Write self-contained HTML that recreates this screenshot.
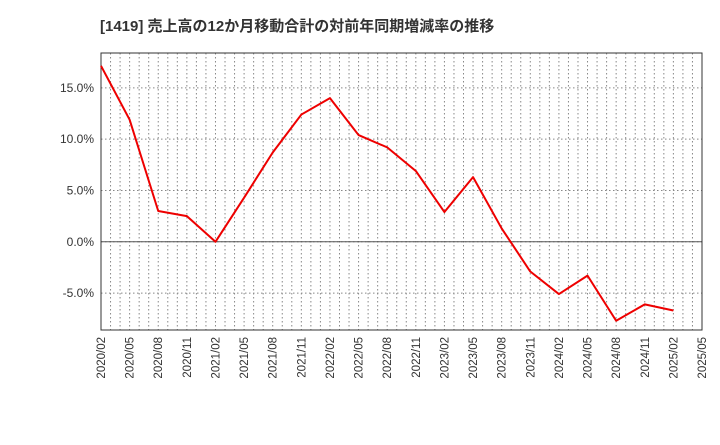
<!DOCTYPE html>
<html><head><meta charset="utf-8"><style>
body{margin:0;background:#fff;width:720px;height:440px;overflow:hidden}
text{font-family:"Liberation Sans","Noto Sans CJK JP",sans-serif}
</style></head><body>
<svg id="c" width="720" height="440"></svg>
<script>
const categories=["2020/02","2020/05","2020/08","2020/11","2021/02","2021/05","2021/08","2021/11","2022/02","2022/05","2022/08","2022/11","2023/02","2023/05","2023/08","2023/11","2024/02","2024/05","2024/08","2024/11","2025/02","2025/05"];
const values=[17.15,11.9,3.0,2.5,0.0,4.3,8.7,12.4,14.0,10.4,9.2,6.9,2.9,6.3,1.3,-2.9,-5.1,-3.3,-7.7,-6.1,-6.7];
const yTicks=[-5,0,5,10,15];
const yTickLabels=["-5.0%","0.0%","5.0%","10.0%","15.0%"];
const NS="http://www.w3.org/2000/svg";
const svg=document.getElementById('c');
const L=101,R=702,T=53,B=330,yMin=-8.6,yMax=18.4;
const x=i=>L+(R-L)*i/(categories.length-1);
const y=v=>B-(v-yMin)/(yMax-yMin)*(B-T);
function el(t,a,p){const e=document.createElementNS(NS,t);for(const k in a)e.setAttribute(k,a[k]);(p||svg).appendChild(e);return e;}
const title=el('text',{x:100,y:31,'font-size':15,'font-weight':'bold',fill:'#333'});


title.textContent='[1419]  売上高の12か月移動合計の対前年同期増減率の推移';
const grid=el('g',{});


const nM=(categories.length-1)*3;
for(let m=1;m<nM;m++){const gx=L+(R-L)*m/nM;el('line',{x1:gx,x2:gx,y1:T,y2:B,stroke:'#888','stroke-width':1,'stroke-dasharray':'1.5,2.5'},grid);}
yTicks.forEach((v,i)=>{el('line',{x1:L,x2:R,y1:y(v),y2:y(v),stroke:'#888','stroke-width':1,'stroke-dasharray':'1.5,2.5'},grid);
const t=el('text',{x:L-7,y:y(v)+4,'font-size':12,'text-anchor':'end',fill:'#333'});


t.textContent=yTickLabels[i];});
const z=el('line',{x1:L,x2:R,y1:y(0),y2:y(0),stroke:'#555','stroke-width':1});


categories.forEach((c,i)=>{const t=el('text',{x:0,y:0,'font-size':11.5,'text-anchor':'end',fill:'#333',transform:`translate(${x(i)+4},${B+7}) rotate(-90)`});


t.textContent=c;});
const frame=el('rect',{x:L,y:T,width:R-L,height:B-T,fill:'none',stroke:'#333','stroke-width':1});


const line=el('polyline',{points:values.map((v,i)=>x(i)+','+y(v)).join(' '),fill:'none',stroke:'#e00','stroke-width':2,'stroke-linejoin':'round'});


</script>
</body></html>
